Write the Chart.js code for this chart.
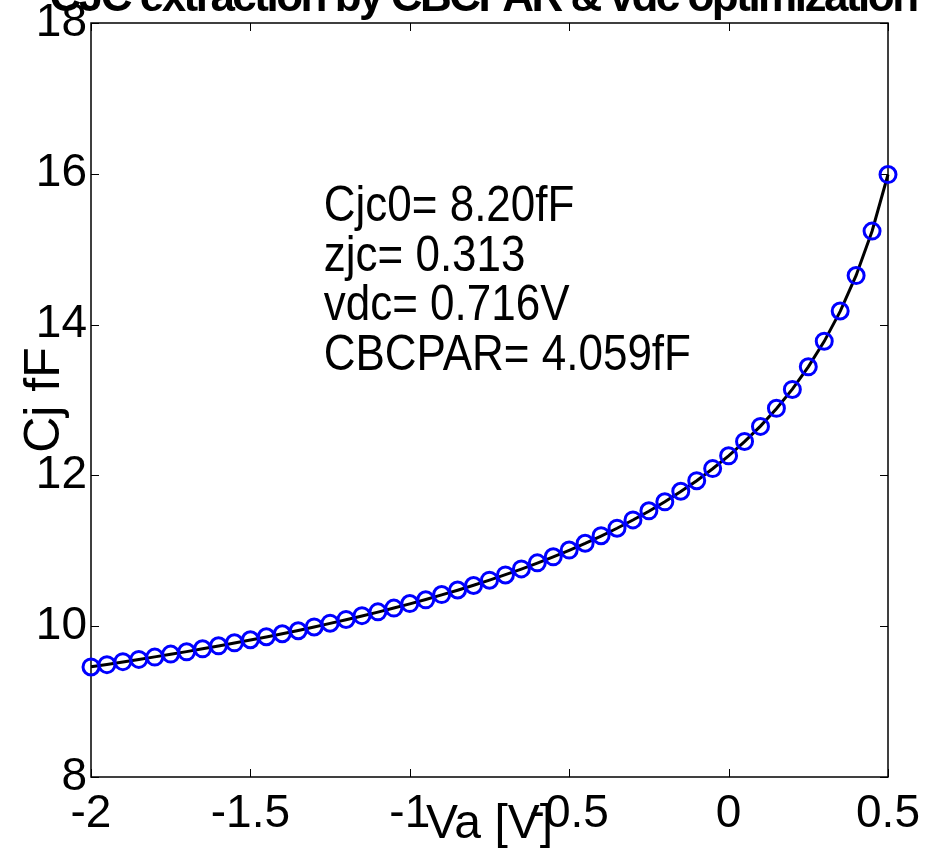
<!DOCTYPE html>
<html>
<head>
<meta charset="utf-8">
<script src="https://cdn.jsdelivr.net/npm/chart.js@4"></script>
<style>
  html, body { margin: 0; padding: 0; background: #fff; }
  canvas { display: block; }
</style>
</head>
<body>
<canvas id="mycanvas" width="941" height="854"></canvas>
<script>
// bias voltage sweep [V]
var voltage = [-2.00, -1.95, -1.90, -1.85, -1.80, -1.75, -1.70, -1.65, -1.60, -1.55,
               -1.50, -1.45, -1.40, -1.35, -1.30, -1.25, -1.20, -1.15, -1.10, -1.05,
               -1.00, -0.95, -0.90, -0.85, -0.80, -0.75, -0.70, -0.65, -0.60, -0.55,
               -0.50, -0.45, -0.40, -0.35, -0.30, -0.25, -0.20, -0.15, -0.10, -0.05,
                0.00,  0.05,  0.10,  0.15,  0.20,  0.25,  0.30,  0.35,  0.40,  0.45, 0.50];

// measured junction capacitance [fF]
var cjMeasured = [9.46, 9.49, 9.53, 9.56, 9.59, 9.63, 9.66, 9.70, 9.74, 9.78,
                  9.82, 9.86, 9.90, 9.94, 9.99, 10.04, 10.09, 10.14, 10.19, 10.24,
                  10.30, 10.35, 10.42, 10.48, 10.54, 10.61, 10.68, 10.76, 10.84, 10.92,
                  11.01, 11.10, 11.20, 11.30, 11.41, 11.53, 11.65, 11.79, 11.93, 12.09,
                  12.26, 12.45, 12.65, 12.89, 13.14, 13.44, 13.78, 14.18, 14.65, 15.24, 15.99];

// fitted model curve [fF]
var cjFit = [9.461, 9.493, 9.525, 9.559, 9.593, 9.628, 9.663, 9.700, 9.738, 9.777,
             9.817, 9.858, 9.901, 9.944, 9.990, 10.037, 10.085, 10.135, 10.187, 10.241,
             10.296, 10.354, 10.415, 10.477, 10.543, 10.612, 10.683, 10.758, 10.836, 10.919,
             11.006, 11.098, 11.196, 11.299, 11.408, 11.525, 11.651, 11.785, 11.930, 12.088,
             12.259, 12.447, 12.654, 12.885, 13.144, 13.439, 13.778, 14.176, 14.652, 15.238, 15.991];

var xTicks = [-2, -1.5, -1, -0.5, 0, 0.5];
var xTickLabels = ['-2', '-1.5', '-1', '-0.5', '0', '0.5'];
var yTicks = [8, 10, 12, 14, 16, 18];
var yTickLabels = ['8', '10', '12', '14', '16', '18'];

var plotTitle = 'CJC extraction by CBCPAR & vdc optimization';
var fitParams = ['Cjc0= 8.20fF', 'zjc= 0.313', 'vdc= 0.716V', 'CBCPAR= 4.059fF'];

var FONT = '"Liberation Sans", Arial, Helvetica, sans-serif';
Chart.defaults.font.family = FONT;
Chart.defaults.color = '#000';

function toXY(xs, ys) {
    var out = [];
    for (var i in xs) {
        out.push({x: xs[i], y: ys[i]});
    }
    return out;
}

// box round the axes, ticks pointing inwards on all four sides
var frame = {
    id: 'frame',
    beforeDatasetsDraw: function(chart) {
        var c = chart.ctx, a = chart.chartArea;
        var sx = chart.scales.x, sy = chart.scales.y;
        var len = 8;
        c.save();
        c.strokeStyle = '#000';
        c.lineWidth = 1;
        c.beginPath();
        xTicks.forEach(function(v) {
            var px = Math.round(sx.getPixelForValue(v)) + 0.5;
            c.moveTo(px, a.bottom); c.lineTo(px, a.bottom - len);
            c.moveTo(px, a.top); c.lineTo(px, a.top + len);
        });
        yTicks.forEach(function(v) {
            var py = Math.round(sy.getPixelForValue(v)) + 0.5;
            c.moveTo(a.left, py); c.lineTo(a.left + len, py);
            c.moveTo(a.right, py); c.lineTo(a.right - len, py);
        });
        c.stroke();
        c.lineWidth = 1.5;
        c.strokeRect(a.left, a.top, a.right - a.left, a.bottom - a.top);
        c.restore();
    }
};

// title (runs off the top edge) and the fitted parameter block
var labels = {
    id: 'labels',
    afterDraw: function(chart) {
        var c = chart.ctx;
        var sx = chart.scales.x, sy = chart.scales.y;
        c.save();
        c.fillStyle = '#000';
        c.letterSpacing = '-2.5px';
        c.font = 'bold 44px ' + FONT;
        c.textAlign = 'center';
        c.textBaseline = 'alphabetic';
        c.fillText(plotTitle, 483, 11);
        c.restore();

        // parameter text, squeezed sideways
        var tx = sx.getPixelForValue(-1.27);
        var ty = sy.getPixelForValue(15.37);
        c.save();
        c.fillStyle = '#000';
        c.font = '50px ' + FONT;
        c.textAlign = 'left';
        c.textBaseline = 'alphabetic';
        c.translate(tx, ty);
        c.scale(0.88, 1);
        fitParams.forEach(function(line, i) {
            c.fillText(line, 0, i * 49.5);
        });
        c.restore();
    }
};

var ctx = document.getElementById('mycanvas');

var cjChart = new Chart(ctx, {
    type: 'scatter',
    data: {
        datasets: [
            {
                label: 'measured',
                data: toXY(voltage, cjMeasured),
                showLine: false,
                pointStyle: 'circle',
                pointRadius: 8,
                borderWidth: 3,
                borderColor: '#0000ff',
                backgroundColor: 'rgba(0,0,0,0)',
                clip: false,
                order: 1
            },
            {
                label: 'fit',
                data: toXY(voltage, cjFit),
                showLine: true,
                borderColor: '#000',
                borderWidth: 3,
                pointRadius: 0,
                tension: 0,
                fill: false,
                clip: false,
                order: 2
            }
        ]
    },
    options: {
        responsive: false,
        animation: false,
        events: [],
        layout: { padding: { top: 23, right: 53, left: 0, bottom: 0 } },
        plugins: {
            legend: { display: false },
            tooltip: { enabled: false }
        },
        scales: {
            x: {
                type: 'linear',
                min: -2,
                max: 0.5,
                afterBuildTicks: function(s) { s.ticks = xTicks.map(function(v) { return {value: v}; }); },
                afterFit: function(s) {
                    s.height = 77;
                    s.paddingLeft = 0; s.paddingRight = 0;
                },
                grid: { display: false, drawTicks: false },
                border: { display: false },
                ticks: {
                    autoSkip: false,
                    maxRotation: 0,
                    padding: 10,
                    font: { size: 46 },
                    callback: function(v) { return xTickLabels[xTicks.indexOf(v)]; }
                },
                title: {
                    display: true,
                    text: 'Va [V]',
                    font: { size: 48 },
                    padding: { top: 0, bottom: 0 }
                }
            },
            y: {
                type: 'linear',
                min: 8,
                max: 18,
                afterBuildTicks: function(s) { s.ticks = yTicks.map(function(v) { return {value: v}; }); },
                afterFit: function(s) {
                    s.width = 91;
                    s.paddingTop = 0; s.paddingBottom = 0;
                },
                grid: { display: false, drawTicks: false },
                border: { display: false },
                ticks: {
                    padding: 4,
                    font: { size: 46 },
                    callback: function(v) { return yTickLabels[yTicks.indexOf(v)]; }
                },
                title: {
                    display: true,
                    text: 'Cj fF',
                    font: { size: 50 },
                    padding: { top: 15, bottom: 0 }
                }
            }
        }
    },
    plugins: [frame, labels]
});
</script>
</body>
</html>
